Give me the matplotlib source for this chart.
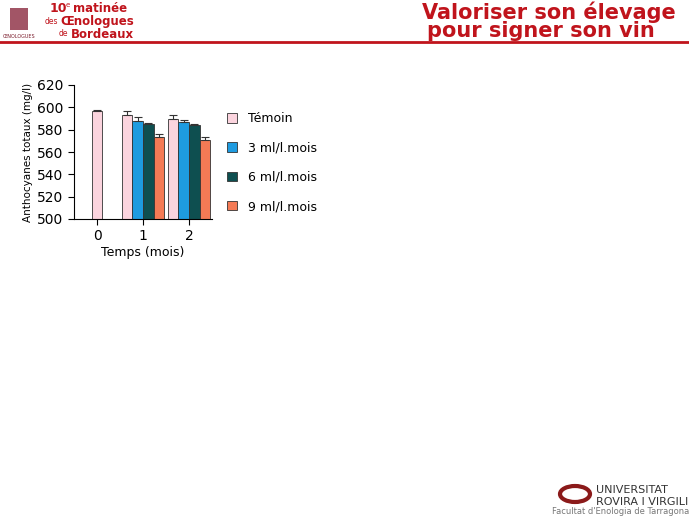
import matplotlib.pyplot as plt
from matplotlib.patches import Rectangle, Ellipse
import numpy as np

W, H = 689, 517

months = [0, 1, 2]
series = ['Témoin', '3 ml/l.mois', '6 ml/l.mois', '9 ml/l.mois']
colors = ['#fbd4de', '#1e9be0', '#0e4f50', '#f47a55']
# values per series (None = no bar at that month)
values = {
    'Témoin':      [597, 593, 590],
    '3 ml/l.mois': [None, 588, 587],
    '6 ml/l.mois': [None, 585, 584],
    '9 ml/l.mois': [None, 573, 571],
}
errors = {
    'Témoin':      [1, 4, 3],
    '3 ml/l.mois': [None, 3, 2],
    '6 ml/l.mois': [None, 1, 1],
    '9 ml/l.mois': [None, 3, 2],
}

fig = plt.figure(figsize=(W / 100, H / 100), dpi=100)
fig.patch.set_facecolor('white')

def fx(px):
    return px / W

def fy(py):
    return 1 - py / H

red = '#c0141c'

# header
fig.text(fx(50), fy(8), '10', color=red, fontsize=9, fontweight='bold', va='center')
fig.text(fx(66), fy(5), 'e', color=red, fontsize=5, va='center')
fig.text(fx(73), fy(8), 'matinée', color=red, fontsize=8.5, fontweight='bold', va='center')
fig.text(fx(45), fy(21), 'des', color=red, fontsize=5.5, va='center')
fig.text(fx(60), fy(21), 'Œnologues', color=red, fontsize=8.5, fontweight='bold', va='center')
fig.text(fx(59), fy(34), 'de', color=red, fontsize=5.5, va='center')
fig.text(fx(71), fy(34), 'Bordeaux', color=red, fontsize=8.5, fontweight='bold', va='center')
fig.text(fx(3), fy(36), 'ŒNOLOGUES', color='#7a1a2a', fontsize=3.5, va='center')
fig.add_artist(Rectangle((fx(10), fy(30)), fx(18), 22 / H, transform=fig.transFigure,
                         facecolor='#8b2a40', edgecolor='none', alpha=0.8))
fig.text(fx(422), fy(12), 'Valoriser son élevage', color=red, fontsize=15,
         fontweight='bold', va='center')
fig.text(fx(427), fy(31), 'pour signer son vin', color=red, fontsize=15,
         fontweight='bold', va='center')
fig.add_artist(plt.Line2D([0, 1], [fy(42), fy(42)], color=red, lw=2))

# footer
fig.text(fx(596), fy(490), 'UNIVERSITAT', color='#333333', fontsize=8, va='center')
fig.text(fx(596), fy(502), 'ROVIRA I VIRGILI', color='#333333', fontsize=8, va='center')
fig.text(fx(552), fy(511), "Facultat d'Enologia de Tarragona", color='#777777', fontsize=6, va='center')
fig.add_artist(Ellipse((fx(575), fy(494)), fx(30), 16 / H, transform=fig.transFigure,
                       facecolor='none', edgecolor='#8b1a1a', lw=3))

# chart
ax = fig.add_axes([fx(74), fy(219), fx(212) - fx(74), (219 - 85) / H])
width = 0.23
offsets = [-1.5, -0.5, 0.5, 1.5]
for s, c, off in zip(series, colors, offsets):
    xs, ys, es = [], [], []
    for m, v, e in zip(months, values[s], errors[s]):
        if v is None:
            continue
        # single bar at month 0 sits centred on the tick
        xs.append(m if m == 0 else m + off * width)
        ys.append(v)
        es.append(e)
    es = np.array(es)
    ax.bar(xs, np.array(ys) - 500, bottom=500, width=width, color=c,
           edgecolor='#333333', linewidth=0.6, label=s, zorder=2)
    ax.errorbar(xs, ys, yerr=[np.zeros_like(es), es], fmt='none', ecolor='#333333',
                elinewidth=0.8, capsize=3, capthick=0.8, zorder=3)

ax.set_ylim(500, 620)
ax.set_xlim(-0.5, 2.5)
ax.set_yticks(range(500, 621, 20))
ax.set_xticks(months)
ax.tick_params(labelsize=10, length=4, width=0.8)
for sp in ['top', 'right']:
    ax.spines[sp].set_visible(False)
ax.set_xlabel('Temps (mois)', fontsize=9, labelpad=2)
ax.set_ylabel('Anthocyanes totaux (mg/l)', fontsize=7.5, labelpad=3)

ax.legend(loc='upper left', bbox_to_anchor=(fx(216), fy(101)), bbox_transform=fig.transFigure,
          frameon=False, fontsize=9, handlelength=0.8, handleheight=0.8,
          labelspacing=1.3, handletextpad=0.9)

fig.savefig('out.png', dpi=100)
